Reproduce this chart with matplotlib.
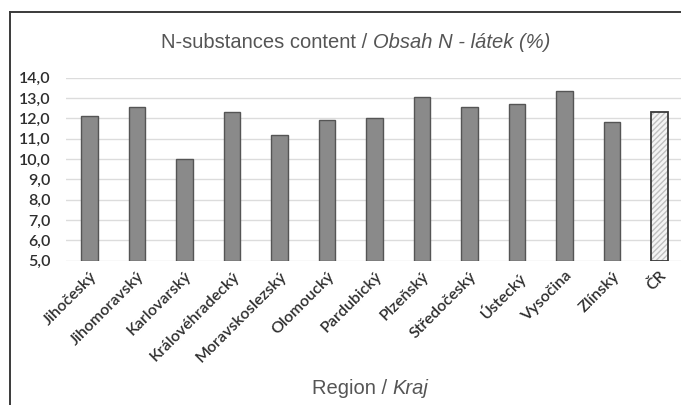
import numpy as np
import matplotlib
matplotlib.use("Agg")
from matplotlib import pyplot as plt
from matplotlib.lines import Line2D

# data
regions = ["Jihočeský", "Jihomoravský", "Karlovarský", "Královéhradecký",
           "Moravskoslezský", "Olomoucký", "Pardubický", "Plzeňský",
           "Středočeský", "Ústecký", "Vysočina", "Zlínský", "ČR"]
n_content = [12.1, 12.55, 10.0, 12.3, 11.2, 11.9, 12.0, 13.05,
             12.55, 12.7, 13.35, 11.8, 12.3]
y_ticks = [5.0, 6.0, 7.0, 8.0, 9.0, 10.0, 11.0, 12.0, 13.0, 14.0]

W, H = 681, 405
fig = plt.figure(figsize=(W / 100, H / 100), dpi=100)
fig.patch.set_facecolor("white")

# plot area in pixels: left 65.75, right 683.25, top 77.7, bottom 260.7
ax = fig.add_axes([65.75 / W, 1 - 260.7 / H, 617.5 / W, 183.0 / H])

x = np.arange(len(regions))
bar_w = 0.34
base = 5.0
heights = np.array(n_content) - base

# regional bars
ax.bar(x[:-1], heights[:-1], bottom=base, width=bar_w, color="#8a8a8a",
       edgecolor="#555555", linewidth=1.0, zorder=3)
# national value: hatched
ax.bar(x[-1:], heights[-1:], bottom=base, width=bar_w, color="#f4f4f4",
       edgecolor="#c0c0c0", hatch="//////", linewidth=0, zorder=3)
ax.bar(x[-1:], heights[-1:], bottom=base, width=bar_w, fill=False,
       edgecolor="#3a3a3a", linewidth=1.3, zorder=4)

tick_font = dict(fontfamily="Lato", fontsize=11.5, color="#2e2e2e",
                 fontweight="semibold")
ax.set_xlim(-0.5, len(regions) - 0.5)
ax.set_ylim(5.0, 14.0)
ax.set_yticks(y_ticks)
ax.set_yticklabels([f"{v:.1f}".replace(".", ",") for v in y_ticks],
                   **tick_font)
ax.set_xticks(x)
ax.set_xticklabels(regions, rotation=45, ha="right", rotation_mode="anchor",
                   **tick_font)
ax.tick_params(axis="both", length=0)
ax.tick_params(axis="y", pad=11)
ax.tick_params(axis="x", pad=6)
ax.grid(axis="y", color="#dcdcdc", linewidth=1.0, zorder=0)
ax.set_axisbelow(True)
for s in ax.spines.values():
    s.set_visible(False)

# outer chart frame (left and top edges visible in the crop)
fig.add_artist(Line2D([9.5 / W, 9.5 / W], [0, 1 - 12 / H],
                      transform=fig.transFigure, color="#3a3a3a", lw=1.4))
fig.add_artist(Line2D([9.5 / W, 1.0], [1 - 12 / H, 1 - 12 / H],
                      transform=fig.transFigure, color="#3a3a3a", lw=1.4))


def two_part_text(plain, italic, cx, cy, size):
    # plain part + italic part, centred together on cx
    t1 = fig.text(0, cy, plain, fontsize=size, color="#555555",
                  fontfamily="Liberation Sans", va="center", ha="left")
    t2 = fig.text(0, cy, italic, fontsize=size, color="#555555",
                  fontfamily="Liberation Sans", style="italic",
                  va="center", ha="left")
    r = fig.canvas.get_renderer()
    w1 = t1.get_window_extent(r).width / W
    w2 = t2.get_window_extent(r).width / W
    x0 = cx - (w1 + w2) / 2
    t1.set_x(x0)
    t2.set_x(x0 + w1)


two_part_text("N-substances content / ", "Obsah N - látek (%)",
              356 / W, 1 - 42 / H, 14.5)
two_part_text("Region / ", "Kraj", 370 / W, 1 - 389 / H, 14.5)

fig.savefig("out.png", dpi=100)
